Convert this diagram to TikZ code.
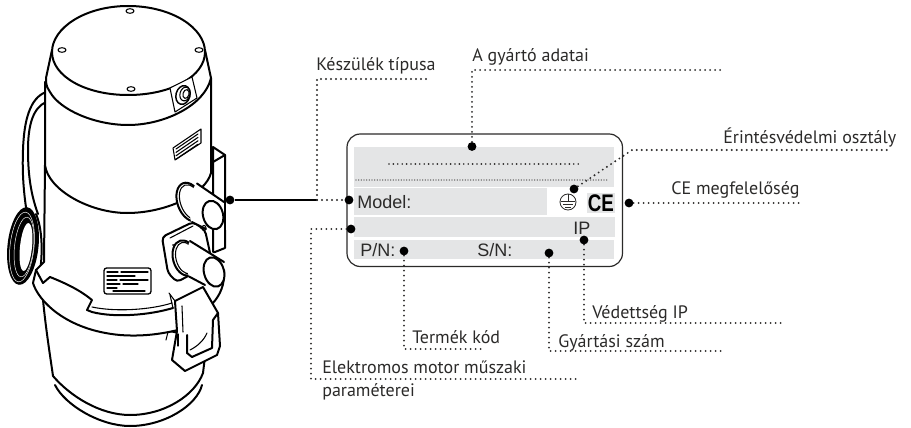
\documentclass[tikz,border=0pt]{standalone}
\usepackage{fontspec}
\setmainfont{PT Sans}
\newfontfamily\arialf{Liberation Sans}
\definecolor{plategray}{HTML}{E4E5E6}
\definecolor{inkc}{HTML}{2B2A29}
\tikzset{
 ml/.style={line width=1.5pt,line join=round,line cap=round,draw=black},
 tl/.style={line width=.8pt,line join=round,line cap=round,draw=black},
 wf/.style={fill=white},
 dotline/.style={line width=1.6pt,line cap=round,dash pattern=on 0pt off 3.75pt,draw=inkc},
 pin/.style={circle,fill=black,inner sep=0pt,minimum size=6.6pt},
 lab/.style={anchor=base west,inner sep=0pt,font=\fontsize{13.5pt}{15pt}\selectfont,text=inkc},
 plt/.style={anchor=base west,inner sep=0pt,font=\arialf\fontsize{13.5pt}{16pt}\selectfont,text=inkc},
 gray/.style={fill=plategray,draw=none}
}
\begin{document}
\begin{tikzpicture}[x=.75pt,y=-.75pt]
\useasboundingbox (0,0) rectangle (911,428);
% cord
\draw[ml] (46,92) .. controls (30,98) and (24,120) .. (23,150) .. controls (22,175) and (24,195) .. (27,214);
\draw[ml] (46,102) .. controls (33,108) and (28,125) .. (28,150) .. controls (28,175) and (31,195) .. (38,214);
\fill[black] (23,246) ellipse[x radius=15.5,y radius=39,rotate=-6];
\fill[white] (26,247) ellipse[x radius=6,y radius=24,rotate=-6];
\draw[white,line width=.35pt] (22,247) ellipse[x radius=12,y radius=35,rotate=-6];
\draw[white,line width=.35pt] (24,247) ellipse[x radius=9.5,y radius=30,rotate=-6];
\draw[ml] (36,214) .. controls (42,228) and (43,250) .. (40,272);
% lower drum
\draw[ml,wf] (43,300) .. controls (46,330) and (50,355) .. (53,376) .. controls (70,396) and (100,415) .. (130,415) .. controls (165,415) and (195,395) .. (203,373) -- (207,340) -- (43,300);
\draw[ml] (55,385) .. controls (65,405) and (100,426) .. (130,426) .. controls (165,426) and (197,405) .. (202,385);
% ring
\fill[white] (45,165) -- (44,262) -- (36,270) -- (33,283) .. controls (38,300) and (65,330) .. (120,335) .. controls (145,337) and (165,333) .. (178,330) -- (213,303) .. controls (220,295) and (225,285) .. (224,270) -- (224,240) -- (211,170) -- cycle;
\draw[ml] (44,262) -- (36,270) -- (33,283) .. controls (38,300) and (65,330) .. (120,335) .. controls (145,337) and (165,333) .. (178,330);
\draw[ml] (213,303) .. controls (220,295) and (225,285) .. (224,270);
% body
\draw[ml,wf] (45,82) -- (45,165) .. controls (48,190) and (90,213) .. (127,213) .. controls (165,213) and (205,195) .. (211,173) -- (211,78) -- cycle;
\draw[ml] (45,165) -- (44,262);
% ring detail
\draw[ml] (36,270) -- (43,283) -- (50,277) .. controls (65,283) and (80,290) .. (92,300) -- (87,310) -- (92,312) .. controls (115,318) and (150,315) .. (173,308);
\draw[tl] (92,307) .. controls (115,312) and (150,310) .. (172,303);
\draw[tl] (170,295) -- (173,308);
% cap
\draw[ml,wf] (52,50) -- (46,78) .. controls (46,88) and (48,88) .. (50,92) .. controls (60,110) and (95,125) .. (128,125) .. controls (165,125) and (205,105) .. (211,78) -- (205,50) -- cycle;
\draw[ml,wf] (128,6) .. controls (172,6) and (205,28) .. (205,52) .. controls (205,76) and (172,95) .. (128,95) .. controls (85,95) and (52,76) .. (52,52) .. controls (52,28) and (85,6) .. (128,6);
\foreach \n/\p in {a/{130,11},b/{62,50},c/{199,50},d/{131,89}} \draw[tl] (\p) ellipse[x radius=4,y radius=2.3];
% socket
\draw[tl,wf] (170,88) -- (192,77) -- (197,98) -- (175,112) -- cycle;
\draw[tl,line width=1.1pt] (183,95) ellipse[x radius=7,y radius=9.5,rotate=-15];
\draw[tl] (185,94) ellipse[x radius=5,y radius=7,rotate=-15];
\draw[tl] (186,94) ellipse[x radius=3,y radius=4.5,rotate=-15];
% upper label
\draw[tl,wf] (173,148) -- (201,129) -- (201,143) -- (175,160) -- cycle;
\foreach \i in {0,1,2,3} \draw[tl] (176,{149+3.4*\i}) -- (198,{134+3.4*\i});
% lower label
\draw[tl,line width=1pt,rounded corners=2pt,wf] (104,268) -- (151,268) -- (151,294) -- (104,294) -- cycle;
\foreach \y/\a/\b in {272/107/118,272/121/148,276/107/135,280/107/117,280/120/148,284/107/120,284/123/138,288/107/117,291/113/145} \draw[tl] (\a,\y) -- (\b,\y);
% box behind glands
\draw[ml,wf] (213,147) -- (225,155) -- (225,248) -- (215,252) -- (213,252) -- cycle;
\draw[ml] (213,162) -- (225,155);
% bottom plate
\draw[ml,wf,rounded corners=3pt] (162,237) -- (193,222) -- (205,230) -- (212,262) -- (190,275) -- (177,282) -- (168,273) -- cycle;
\draw[tl] (170,238) -- (193,226);
\draw[tl] (177,246) ellipse[x radius=2.2,y radius=2.8];
\fill (173,245) circle[radius=1];
% upper gland
\draw[ml,wf] (190,202) ellipse[x radius=12.5,y radius=20,rotate=20];
\draw[tl] (191,202) ellipse[x radius=10.5,y radius=18,rotate=20];
\fill[white] (196,183.5) -- (224,202) -- (223,224) -- (206,229) -- (191,221.5) -- (187,200) -- cycle;
\draw[ml] (197,183.5) -- (224,202) (192,222) -- (206,229);
\draw[ml,wf] (213,215) ellipse[x radius=10,y radius=14.5,rotate=15];
\draw[ml] (225,200) -- (225,232);
\fill[white] (226,200) rectangle (228,230);
\draw[tl] (204,228) ellipse[x radius=2,y radius=2.6];
\fill (201,228) circle[radius=1];
% lower gland
\draw[ml,wf] (185,258) ellipse[x radius=12,y radius=18,rotate=15];
\draw[tl] (186,258) ellipse[x radius=10,y radius=16,rotate=15];
\fill[white] (190,241) -- (224,262) -- (224,280) -- (205,287) -- (189,276.5) -- (183,258) -- cycle;
\draw[ml] (190,241) -- (224,262) (189,276.5) -- (205,285);
\draw[ml,wf] (214,272) ellipse[x radius=10,y radius=15,rotate=15];
% handle
\draw[ml,wf] (175,301) -- (203,287) -- (218,313) -- (220,346) -- (217,355) -- (185,371) -- (172,360) -- (177,331) -- cycle;
\draw[tl] (182,306) -- (183,332);
\draw[ml,wf] (187,335) -- (187,353) -- (192,357) -- (212,348) -- (213,320) -- (218,313);
\draw[tl] (190,350) .. controls (198,346) and (204,340) .. (207,333);
\draw[tl] (175,331) -- (168,332) -- (166,340);
\draw[tl] (178,334) -- (178,346);
\fill (178,345) circle[radius=.8];
\draw[tl] (169,293) -- (175,301);
% plate
\draw[line width=.9pt,draw=inkc,rounded corners=10pt] (347,134) rectangle (622.5,266.5);
\fill[gray] (354,147) rectangle (614,187);
\fill[gray] (354,188) rectangle (547,215);
\fill[gray] (587,193) rectangle (615,213);
\fill[gray] (354,217) rectangle (615,237);
\fill[gray] (354,240) rectangle (614,259);
\coordinate (d1a) at (389,164); \coordinate (d1b) at (581,164);
\draw[line width=1.4pt,line cap=round,dash pattern=on 0pt off 3.3pt,draw=inkc] (d1a) -- (d1b);
\coordinate (d2a) at (356,180); \coordinate (d2b) at (608,180);
\draw[line width=.9pt,line cap=round,dash pattern=on 0pt off 2pt,draw=inkc] (d2a) -- (d2b);
\node[plt] (tmodel) at (357,208) {Model:};
\node[plt] (tpn) at (360,256) {P/N:};
\node[plt] (tsn) at (477,256) {S/N:};
\node[plt] (tip) at (573,234) {IP};
% earth symbol
\draw[line width=.6pt,draw=inkc] (568,202) circle[radius=8];
\draw[line width=.6pt,draw=inkc] (568,194) -- (568,201) (561,201.5) -- (575,201.5) (563,204.5) -- (573,204.5) (565,207) -- (571,207);
\node[anchor=base west,inner sep=0pt,font=\arialf\bfseries\fontsize{18pt}{18pt}\selectfont,text=black] (tce) at (587.5,211) {\scalebox{.78}[1]{CE}};
% pins
\node[pin] (pmach) at (230,200) {};
\node[pin] (pmodel) at (349,200) {};
\node[pin] (ptop) at (472,146.5) {};
\node[pin] (pel) at (351,229) {};
\node[pin] (ppn) at (404,251) {};
\node[pin] (psn) at (549,253) {};
\node[pin] (pip) at (584,240) {};
\node[pin] (ppe) at (574,189) {};
\node[pin] (pce) at (629,203) {};
% connector corners and ends
\coordinate (jm) at (317,200);
\coordinate (c1) at (317,79); \coordinate (e1) at (428,79);
\coordinate (c2) at (472,70); \coordinate (e2) at (723,70);
\coordinate (c3) at (632,150); \coordinate (e3) at (888,150);
\coordinate (e4) at (800,203);
\coordinate (c5) at (311,229); \coordinate (c5b) at (311,379); \coordinate (e5) at (577,379);
\coordinate (c6) at (404,349); \coordinate (e6) at (485,349);
\coordinate (c7) at (549,351); \coordinate (e7) at (723,351);
\coordinate (c8) at (584,323); \coordinate (e8) at (783,323);
\draw[line width=1.3pt,black] (pmach) -- (jm);
\draw[dotline] (jm) -- (pmodel);
\draw[dotline] (jm) -- (c1) -- (e1);
\draw[dotline] (ptop) -- (c2) -- (e2);
\draw[dotline] (ppe) -- (c3) -- (e3);
\draw[dotline] (pce) -- (e4);
\draw[dotline] (pel) -- (c5) -- (c5b) -- (e5);
\draw[dotline] (ppn) -- (c6) -- (e6);
\draw[dotline] (psn) -- (c7) -- (e7);
\draw[dotline] (pip) -- (c8) -- (e8);
% labels
\node[lab] (l1) at (316,71) {Készülék típusa};
\node[lab] (l2) at (472,62) {A gyártó adatai};
\node[lab] (l3) at (723,143) {Érintésvédelmi osztály};
\node[lab] (l4) at (671,195) {CE megfelelőség};
\node[lab] (l5) at (592,318) {Védettség IP};
\node[lab] (l6) at (412,343) {Termék kód};
\node[lab] (l7) at (558,347) {Gyártási szám};
\node[lab] (l8) at (322,373) {Elektromos motor műszaki};
\node[lab] (l9) at (322,396) {paraméterei};
\end{tikzpicture}
\end{document}
